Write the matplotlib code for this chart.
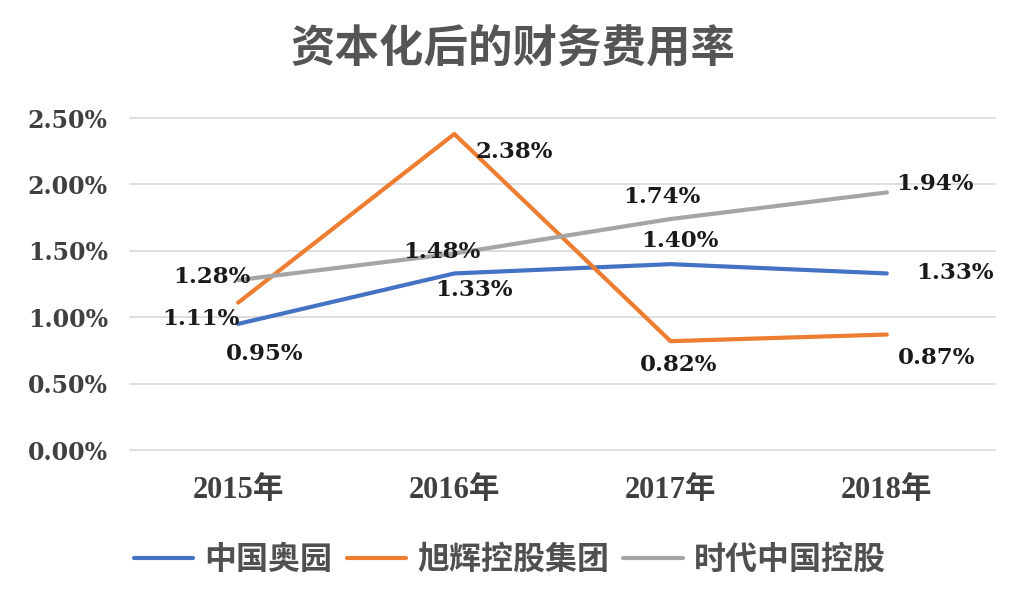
import matplotlib.pyplot as plt

years = ['2015年', '2016年', '2017年', '2018年']
aoyuan = [0.95, 1.33, 1.40, 1.33]
xuhui = [1.11, 2.38, 0.82, 0.87]
shidai = [1.28, 1.48, 1.74, 1.94]
series_names = ['中国奥园', '旭辉控股集团', '时代中国控股']
yticks = [0, 0.5, 1.0, 1.5, 2.0, 2.5]

num_font = ['DejaVu Serif', 'Noto Sans CJK SC']
year_font = ['Liberation Serif', 'Noto Sans CJK SC']
plt.rcParams['font.family'] = ['Noto Sans CJK SC', 'DejaVu Sans']

fig = plt.figure(figsize=(10.26, 6.14), dpi=100)
ax = fig.add_axes([0.1267, 0.267, 0.843, 0.5407])

x = list(range(len(years)))
colors = ['#4472C4', '#ED7D31', '#A5A5A5']
for vals, name, c in zip([aoyuan, xuhui, shidai], series_names, colors):
    ax.plot(x, vals, color=c, linewidth=3, label=name, solid_capstyle='round')

# label offsets (points) per series, per year
offsets = {
    0: [(19, -22), (14, -12), (7, 17), (49, 0)],
    1: [(-27, -12), (43, -13), (6, -17), (36, -17)],
    2: [(-19, 2), (-9, 1), (-6, 16), (35, 6)],
}
for si, vals in enumerate([aoyuan, xuhui, shidai]):
    for i, v in enumerate(vals):
        dx, dy = offsets[si][i]
        ax.annotate(f'{v:.2f}%', (x[i], v), xytext=(dx, dy), textcoords='offset points',
                    ha='center', va='center', fontsize=16.5, fontweight='bold',
                    family=num_font, color='#1a1a1a')

ax.set_xlim(-0.5, 3.5)
ax.set_ylim(0, 2.5)
ax.set_yticks(yticks)
ax.set_yticklabels([f'{t:.2f}%' for t in yticks], family=num_font, fontsize=17,
                   fontweight='bold', color='#404040')
ax.set_xticks(x)
ax.set_xticklabels(years, family=year_font, fontsize=22, fontweight='bold', color='#404040')
ax.tick_params(axis='both', length=0)
ax.tick_params(axis='y', pad=16)
ax.tick_params(axis='x', pad=19)
ax.grid(axis='y', color='#d9d9d9', linewidth=1.2)
for gl in ax.get_ygridlines():
    gl.set_clip_on(False)
ax.set_axisbelow(True)
for s in ax.spines.values():
    s.set_visible(False)

fig.text(0.5, 0.919, '资本化后的财务费用率', ha='center', va='center', fontsize=32,
         fontweight='bold', color='#555555')

fig.legend(loc='center', bbox_to_anchor=(0.497, 0.088), ncol=3, frameon=False,
           prop={'size': 23, 'weight': 'bold'}, handlelength=1.85, columnspacing=0.45,
           handletextpad=0.35, labelcolor='#505050')

fig.savefig('out.png', dpi=100)
